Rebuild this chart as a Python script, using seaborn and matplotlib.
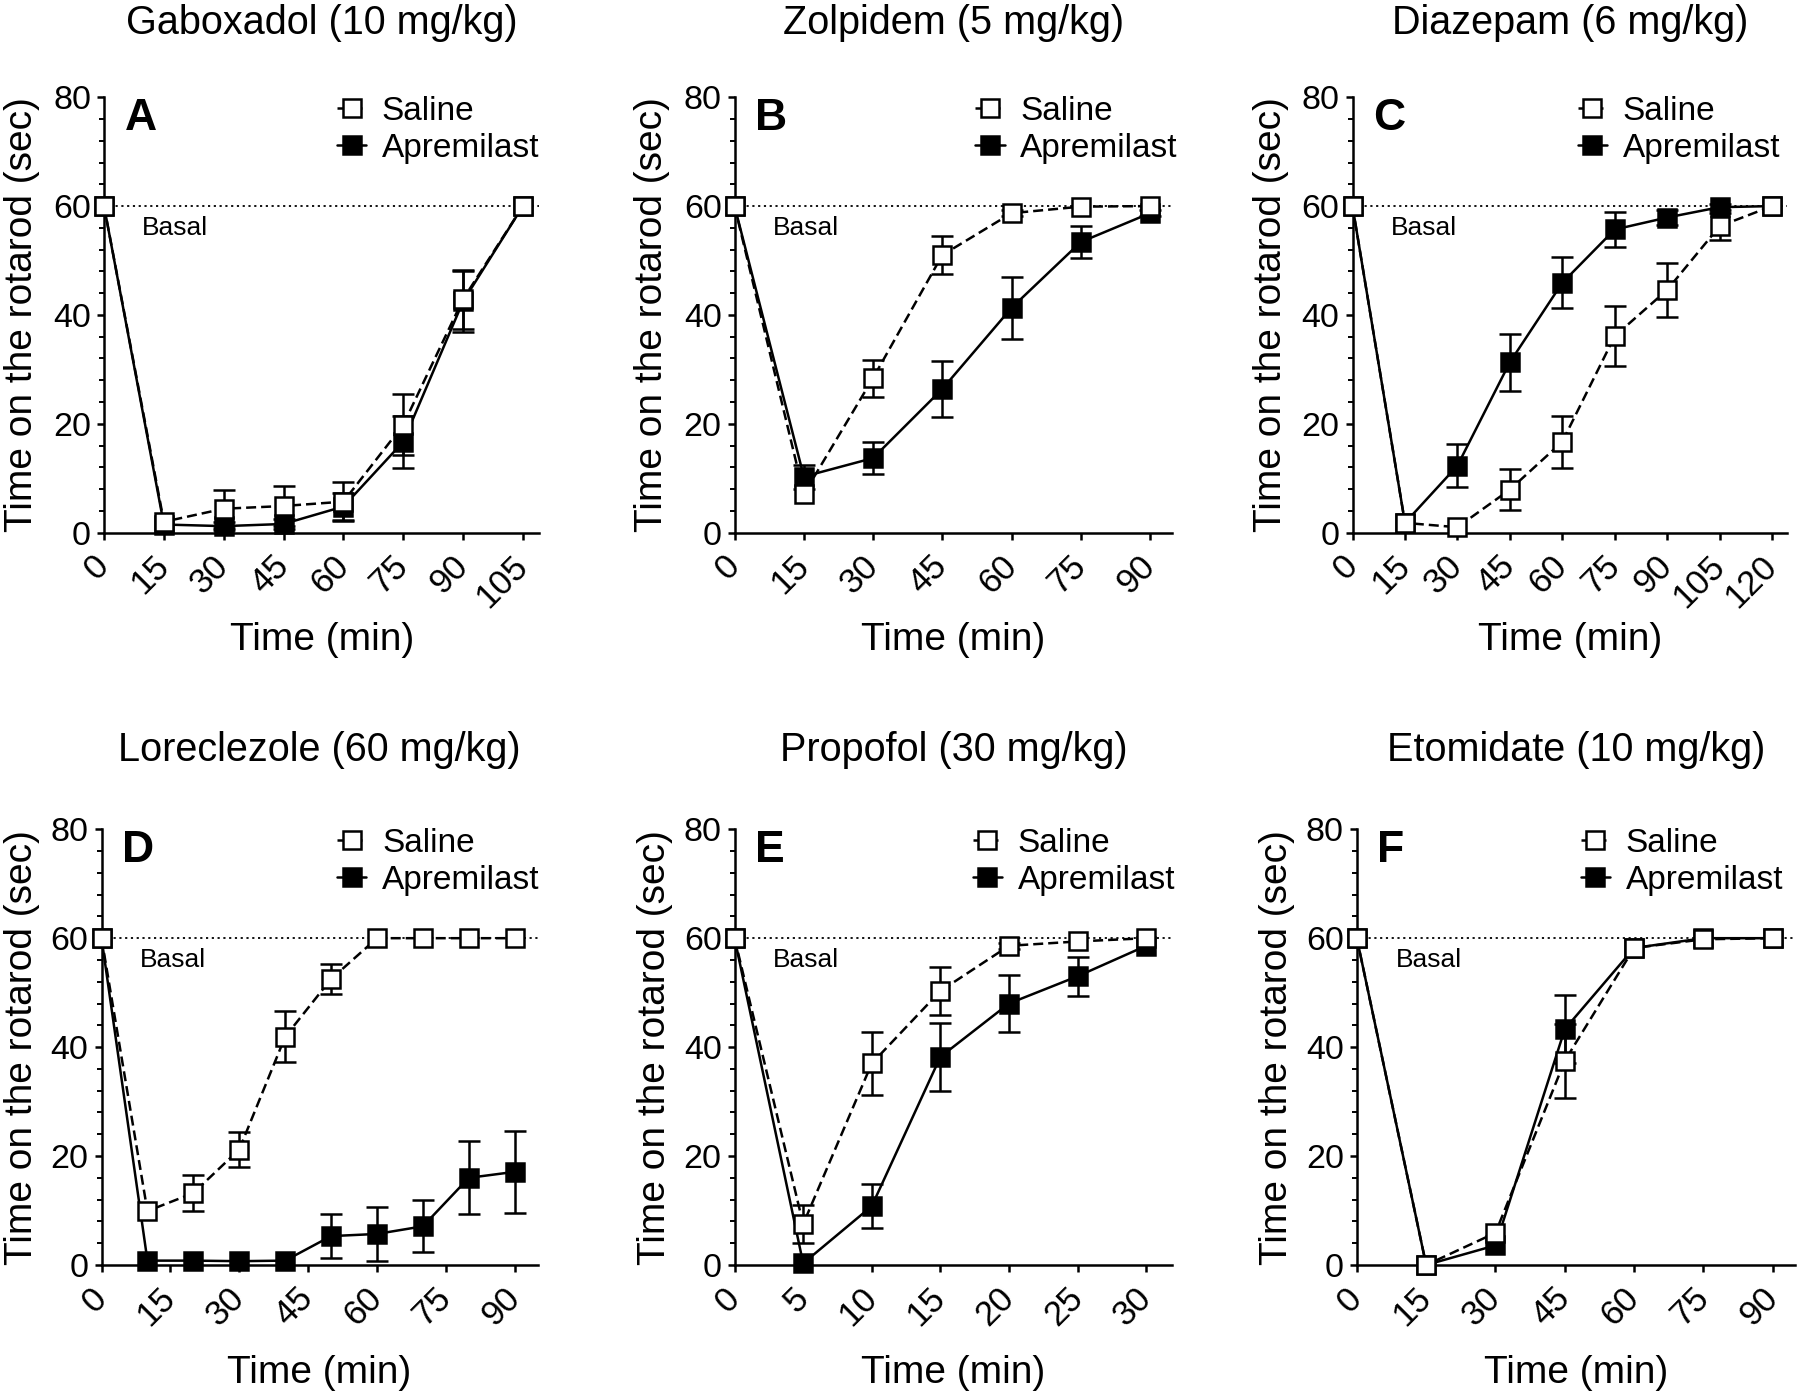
import numpy as np
import pandas as pd
import matplotlib.pyplot as plt
import matplotlib.transforms as mtransforms
from matplotlib.ticker import MultipleLocator
import seaborn as sns

sns.set_style("ticks")
plt.rcParams['font.family'] = ['Liberation Sans', 'DejaVu Sans']
plt.rcParams.update({"text.color": "black", "axes.labelcolor": "black",
                     "xtick.color": "black", "ytick.color": "black",
                     "axes.edgecolor": "black"})

# A - Gaboxadol
time_a = [0, 15, 30, 45, 60, 75, 90, 105]
saline_a = [60, 2.0, 4.4, 4.9, 5.7, 19.8, 42.9, 60]
saline_a_err = [0, 0, 3.5, 3.6, 3.6, 5.6, 5.4, 0]
aprem_a = [60, 1.5, 1.2, 1.6, 4.8, 16.7, 42.5, 60]
aprem_a_err = [0, 0, 0.8, 1.0, 2.4, 4.8, 5.6, 0]

# B - Zolpidem
time_b = [0, 15, 30, 45, 60, 75, 90]
saline_b = [60, 7.1, 28.4, 51.0, 58.7, 59.9, 60]
saline_b_err = [0, 0, 3.4, 3.5, 0.5, 0, 0]
aprem_b = [60, 10.3, 13.7, 26.4, 41.3, 53.4, 58.7]
aprem_b_err = [0, 2.2, 2.9, 5.1, 5.7, 3.0, 0.5]

# C - Diazepam
time_c = [0, 15, 30, 45, 60, 75, 90, 105, 120]
saline_c = [60, 1.8, 1.0, 7.9, 16.7, 36.1, 44.6, 56.3, 60]
saline_c_err = [0, 0, 0, 3.8, 4.8, 5.5, 4.9, 2.5, 0]
aprem_c = [60, 1.8, 12.3, 31.3, 45.9, 55.7, 57.9, 59.8, 60]
aprem_c_err = [0, 0, 4.0, 5.2, 4.7, 3.2, 1.3, 0.5, 0]

# D - Loreclezole
time_d = [0, 10, 20, 30, 40, 50, 60, 70, 80, 90]
saline_d = [60, 9.9, 13.2, 21.2, 41.9, 52.5, 60, 60, 60, 60]
saline_d_err = [0, 0, 3.3, 3.3, 4.7, 2.8, 0, 0, 0, 0]
aprem_d = [60, 0.8, 0.8, 0.7, 0.8, 5.3, 5.7, 7.1, 16.0, 17.1]
aprem_d_err = [0, 0, 0, 0, 0, 4.1, 5.0, 4.8, 6.7, 7.5]

# E - Propofol
time_e = [0, 5, 10, 15, 20, 25, 30]
saline_e = [60, 7.5, 37.0, 50.3, 58.6, 59.4, 60]
saline_e_err = [0, 3.5, 5.8, 4.4, 0.5, 0, 0]
aprem_e = [60, 0.3, 10.8, 38.2, 48.0, 53.0, 58.6]
aprem_e_err = [0, 0, 4.0, 6.3, 5.2, 3.6, 0]

# F - Etomidate
time_f = [0, 15, 30, 45, 60, 75, 90]
saline_f = [60, 0, 5.9, 37.5, 58.2, 59.8, 60]
saline_f_err = [0, 0, 0, 6.8, 0, 0, 0]
aprem_f = [60, 0, 3.6, 43.3, 58.2, 60, 60]
aprem_f_err = [0, 0, 0, 6.3, 0, 0, 0]

titles = ["Gaboxadol (10 mg/kg)", "Zolpidem (5 mg/kg)", "Diazepam (6 mg/kg)",
          "Loreclezole (60 mg/kg)", "Propofol (30 mg/kg)", "Etomidate (10 mg/kg)"]
letters = ["A", "B", "C", "D", "E", "F"]

panels = [
    (time_a, saline_a, saline_a_err, aprem_a, aprem_a_err, 15, 109.1),
    (time_b, saline_b, saline_b_err, aprem_b, aprem_b_err, 15, 94.8),
    (time_c, saline_c, saline_c_err, aprem_c, aprem_c_err, 15, 124.4),
    (time_d, saline_d, saline_d_err, aprem_d, aprem_d_err, 15, 95.0),
    (time_e, saline_e, saline_e_err, aprem_e, aprem_e_err, 5, 31.9),
    (time_f, saline_f, saline_f_err, aprem_f, aprem_f_err, 15, 94.8),
]

# axes boxes in figure fraction [left, bottom, width, height]
boxes = [
    [0.0578, 0.6187, 0.2418, 0.3117],
    [0.4081, 0.6187, 0.2431, 0.3117],
    [0.7514, 0.6187, 0.2416, 0.3117],
    [0.0564, 0.0945, 0.2423, 0.3119],
    [0.4081, 0.0945, 0.2431, 0.3119],
    [0.7538, 0.0945, 0.2434, 0.3119],
]
legend_x = [0.535, 0.55, 0.518, 0.54, 0.544, 0.511]
title_y = [1.171, 1.171, 1.171, 1.182, 1.182, 1.182]

fig = plt.figure(figsize=(18, 13.97), dpi=100)

lw = 1.8
for i, (t, sal, sal_err, apr, apr_err, step, xmax) in enumerate(panels):
    ax = fig.add_axes(boxes[i])
    df = pd.DataFrame({"time": t, "saline": sal, "saline_err": sal_err,
                       "aprem": apr, "aprem_err": apr_err})

    # error bars (only where visible)
    m = df["aprem_err"] > 0
    ax.errorbar(df.loc[m, "time"], df.loc[m, "aprem"], yerr=df.loc[m, "aprem_err"],
                fmt="none", ecolor="black", elinewidth=lw, capsize=8, capthick=lw,
                clip_on=False, zorder=2)
    m = df["saline_err"] > 0
    ax.errorbar(df.loc[m, "time"], df.loc[m, "saline"], yerr=df.loc[m, "saline_err"],
                fmt="none", ecolor="black", elinewidth=lw, capsize=8, capthick=lw,
                clip_on=False, zorder=4)

    sns.lineplot(data=df, x="time", y="aprem", ax=ax, color="black", lw=lw,
                 marker="s", markersize=13, markerfacecolor="black",
                 markeredgecolor="black", markeredgewidth=lw,
                 errorbar=None, label="Apremilast", clip_on=False, zorder=3)
    sns.lineplot(data=df, x="time", y="saline", ax=ax, color="black", lw=lw,
                 linestyle=(0, (4, 2)), marker="s", markersize=13,
                 markerfacecolor="white", markeredgecolor="black",
                 markeredgewidth=lw, errorbar=None, label="Saline",
                 clip_on=False, zorder=5)

    ax.axhline(60, color="black", lw=1.3, linestyle=(0, (1.2, 2.0)), zorder=1)

    ax.set_xlim(0, xmax)
    ax.set_ylim(0, 80)
    ax.set_xticks(np.arange(0, t[-1] + 1, step))
    ax.yaxis.set_major_locator(MultipleLocator(20))
    ax.yaxis.set_minor_locator(MultipleLocator(4))
    sns.despine(ax=ax)
    for s in ["left", "bottom"]:
        ax.spines[s].set_linewidth(lw)
        ax.spines[s].set_color("black")
    ax.tick_params(axis="both", which="major", direction="out", length=5.3,
                   width=lw, color="black", labelcolor="black")
    ax.tick_params(axis="y", which="major", pad=4, labelsize=24.5)
    ax.tick_params(axis="y", which="minor", direction="out", length=3.4,
                   width=1.4, color="black")
    ax.tick_params(axis="x", pad=15, labelsize=25)
    for lab in ax.get_xticklabels():
        lab.set_rotation(45)
        lab.set_ha("right")
        lab.set_va("center")
        lab.set_rotation_mode("anchor")

    ax.set_xlabel("Time (min)", fontsize=28, va="center", color="black")
    ax.set_ylabel("Time on the rotarod (sec)", fontsize=28, va="center", color="black")
    ax.xaxis.set_label_coords(0.5, -0.247)
    ax.yaxis.set_label_coords(-0.188 if i < 3 else -0.182, 0.5)

    ax.text(0.5, title_y[i], titles[i], transform=ax.transAxes, ha="center",
            va="center", fontsize=28.5, color="black")
    ax.text(0.047, 0.998, letters[i], transform=ax.transAxes, ha="left",
            va="top", fontsize=32, fontweight="bold", color="black")
    trans = mtransforms.blended_transform_factory(ax.transAxes, ax.transData)
    ax.text(0.088, 56, "Basal", transform=trans, ha="left", va="center",
            fontsize=19, color="black")

    handles, labels = ax.get_legend_handles_labels()
    order = [labels.index("Saline"), labels.index("Apremilast")]
    leg = ax.legend([handles[k] for k in order], [labels[k] for k in order],
                    loc="upper left", bbox_to_anchor=(legend_x[i], 1.003),
                    frameon=False, fontsize=24, handlelength=0.88,
                    handletextpad=0.47, labelspacing=0.18, borderpad=0,
                    borderaxespad=0)
    for txt in leg.get_texts():
        txt.set_color("black")

fig.savefig("out.png", dpi=100, facecolor="white")
